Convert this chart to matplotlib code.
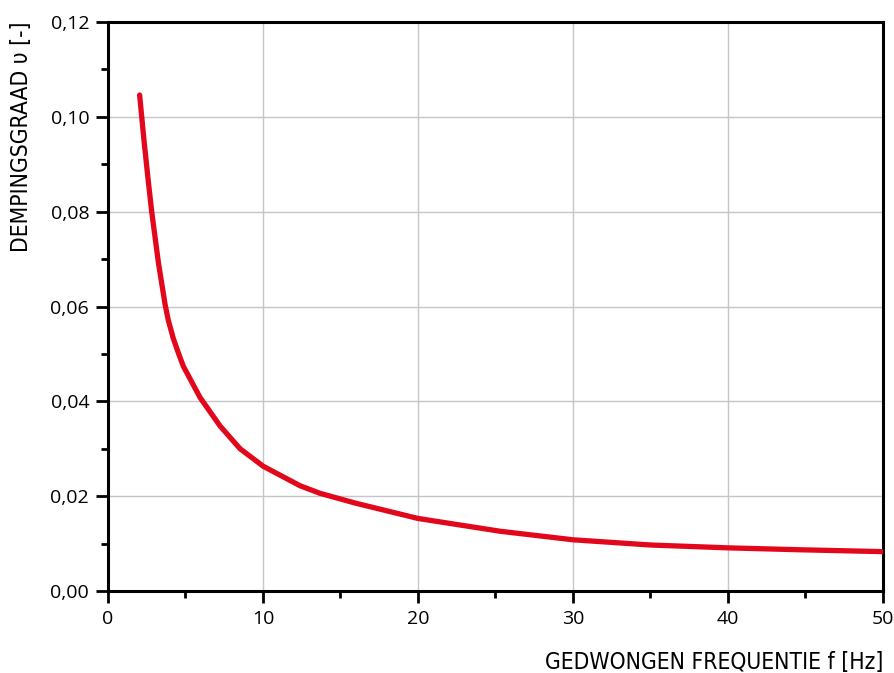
import matplotlib
matplotlib.use("Agg")
from matplotlib import pyplot as plt
from matplotlib.ticker import MultipleLocator, FuncFormatter

# waarden
freq = [2.04, 2.32, 2.60, 2.82, 3.25, 3.68, 3.89, 4.21, 4.54, 4.86, 5.94, 7.23, 8.52,
        10.02, 12.39, 13.68, 16.0, 20.0, 25.3, 30.0, 35.0, 40.0, 44.6, 50.0]
demping = [0.1046, 0.0951, 0.0864, 0.0800, 0.0693, 0.0605, 0.0571, 0.0533, 0.0502,
           0.0474, 0.0408, 0.0348, 0.0300, 0.0263, 0.0222, 0.0206, 0.0185, 0.0153,
           0.0126, 0.0108, 0.0097, 0.0091, 0.0087, 0.0083]

x_label = "GEDWONGEN FREQUENTIE f [Hz]"
y_label = "DEMPINGSGRAAD \u03c5 [-]"

label_font = ["DejaVu Sans"]
tick_font = ["Open Sans", "DejaVu Sans"]

fig = plt.figure(figsize=(8.95, 6.73), dpi=100)
ax = fig.add_axes([108/895, 1-591/673, (883-108)/895, (591-22)/673])

ax.plot(freq, demping, color="#e2071a", lw=3.8, solid_capstyle="round",
        solid_joinstyle="round", zorder=3)

ax.set_xlim(0, 50)
ax.set_ylim(0, 0.12)
ax.xaxis.set_major_locator(MultipleLocator(10))
ax.xaxis.set_minor_locator(MultipleLocator(5))
ax.yaxis.set_major_locator(MultipleLocator(0.02))
ax.yaxis.set_minor_locator(MultipleLocator(0.01))
ax.yaxis.set_major_formatter(FuncFormatter(lambda v, p: ("%.2f" % v).replace(".", ",")))
ax.xaxis.set_major_formatter(FuncFormatter(lambda v, p: "%d" % v))

ax.grid(True, which="major", color="#c6c6c6", lw=1.0, zorder=0)
for s in ax.spines.values():
    s.set_linewidth(2.2)
    s.set_color("black")

ax.tick_params(which="major", direction="out", length=8.5, width=2.0, labelsize=14, pad=5)
ax.tick_params(which="minor", direction="out", length=5, width=2.0)
ax.tick_params(top=False, right=False)
for lab in ax.get_xticklabels() + ax.get_yticklabels():
    lab.set_family(tick_font)

fig.text(883/895, 1-662/673, x_label, ha="right", va="center", fontsize=16.4,
         family=label_font, stretch="condensed")
fig.text(22/895, 1-22/673, y_label, ha="center", va="top", rotation=90, fontsize=16.4,
         family=label_font, stretch="condensed")

fig.savefig("out.png", dpi=100)
